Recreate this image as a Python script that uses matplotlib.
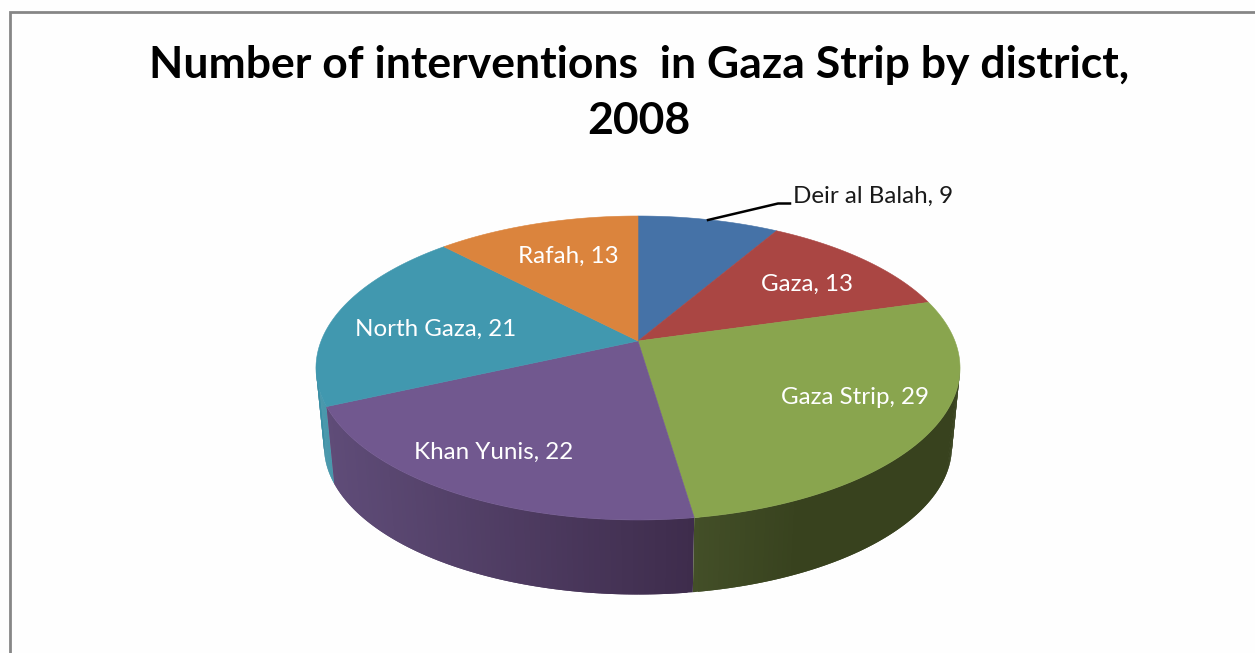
import numpy as np
import matplotlib
matplotlib.use("Agg")
import matplotlib.pyplot as plt
from matplotlib.patches import Polygon
from matplotlib.colors import to_rgb

# ---- data ----
districts = ["Deir al Balah", "Gaza", "Gaza Strip", "Khan Yunis", "North Gaza", "Rafah"]
interventions = [9, 13, 29, 22, 21, 13]
title_text = "Number of interventions  in Gaza Strip by district,\n2008"

# ---- styles ----
top_colors = ["#4572A7", "#AA4643", "#89A54E", "#71588F", "#4198AF", "#DB843D"]
wall_left = {2: "#434F28", 3: "#5F4C78", 4: "#3A90A6"}
wall_right = {2: "#38421E", 3: "#3E2C4C", 4: "#3A90A6"}
label_pos = {"Gaza": (807, 284), "Gaza Strip": (855, 398), "Khan Yunis": (494, 452),
             "North Gaza": (436, 329), "Rafah": (568, 256)}
FONT = "Lato"
CX, CY, A, B, P = 638.0, 341.0, 316.9, 147.2, 0.1776


def rim(theta, scale=1.0, y0=CY):
    theta = np.asarray(theta)
    den = 1 + P * np.cos(theta)
    return np.column_stack([CX + scale * A * np.sin(theta) / den,
                            y0 - scale * B * np.cos(theta) / den])


fig = plt.figure(figsize=(12.55, 6.53), dpi=100, facecolor="#FEFEFE")
ax = fig.add_axes([0, 0, 1, 1])
ax.set_xlim(0, 1255)
ax.set_ylim(653, 0)
ax.axis("off")

# chart frame
ax.plot([10, 10, 1255], [653, 11.5, 11.5], color="#868686", lw=2, solid_joinstyle="miter")

edges = np.concatenate([[0], np.cumsum(interventions)]) / sum(interventions) * 2 * np.pi
SIDE_L, SIDE_R = np.deg2rad(100), np.deg2rad(262)
BOT_S, BOT_Y = 0.975, 420.0

# side walls, painted from the silhouette inward
for i in (4, 3, 2):
    t0, t1 = max(edges[i], SIDE_L), min(edges[i + 1], SIDE_R)
    if t1 <= t0:
        continue
    ts = np.linspace(t0, t1, 90)
    lc, rc = np.array(to_rgb(wall_left[i])), np.array(to_rgb(wall_right[i]))
    tops, bots = rim(ts), rim(ts, BOT_S, BOT_Y)
    xmin, xmax = tops[:, 0].min(), tops[:, 0].max()
    # each strip overlaps the next so that no seams show; painted in order along the rim
    order = range(len(ts) - 2, -1, -1) if i == 2 else range(len(ts) - 1)
    for k in order:
        j = min(k + 2, len(ts) - 1) if i != 2 else k + 1
        j0 = k if i != 2 else max(k - 1, 0)
        f = (0.5 * (tops[k, 0] + tops[k + 1, 0]) - xmin) / (xmax - xmin)
        if i == 2:
            f = min(1.0, f * 2.5)
        c = lc + (rc - lc) * f
        ax.add_patch(Polygon([tops[j0], tops[j], bots[j], bots[j0]],
                             closed=True, fc=c, ec="none", lw=0, zorder=2 + (i == 2)))

# top faces
for i, col in enumerate(top_colors):
    ts = np.linspace(edges[i], edges[i + 1], 120)
    pts = np.vstack([[CX, CY], rim(ts)])
    ax.add_patch(Polygon(pts, closed=True, fc=col, ec=col, lw=0.4, zorder=4))

# labels
for name, val in zip(districts, interventions):
    if name in label_pos:
        x, y = label_pos[name]
        ax.text(x, y, f"{name}, {val}", color="white", fontsize=17.4, family=FONT,
                ha="center", va="center", zorder=6)
ax.text(793, 196, f"{districts[0]}, {interventions[0]}", color="#1A1A1A", fontsize=17.4,
        family=FONT, ha="left", va="center", zorder=6)
ax.plot([708, 778, 790], [220, 203.5, 203.5], color="black", lw=1.8, zorder=5)

# title
ax.text(639, 93, title_text, color="black", fontsize=32, fontweight="bold", family=FONT,
        ha="center", va="center", linespacing=1.47, zorder=6)

fig.savefig("out.png", dpi=100, facecolor=fig.get_facecolor())
